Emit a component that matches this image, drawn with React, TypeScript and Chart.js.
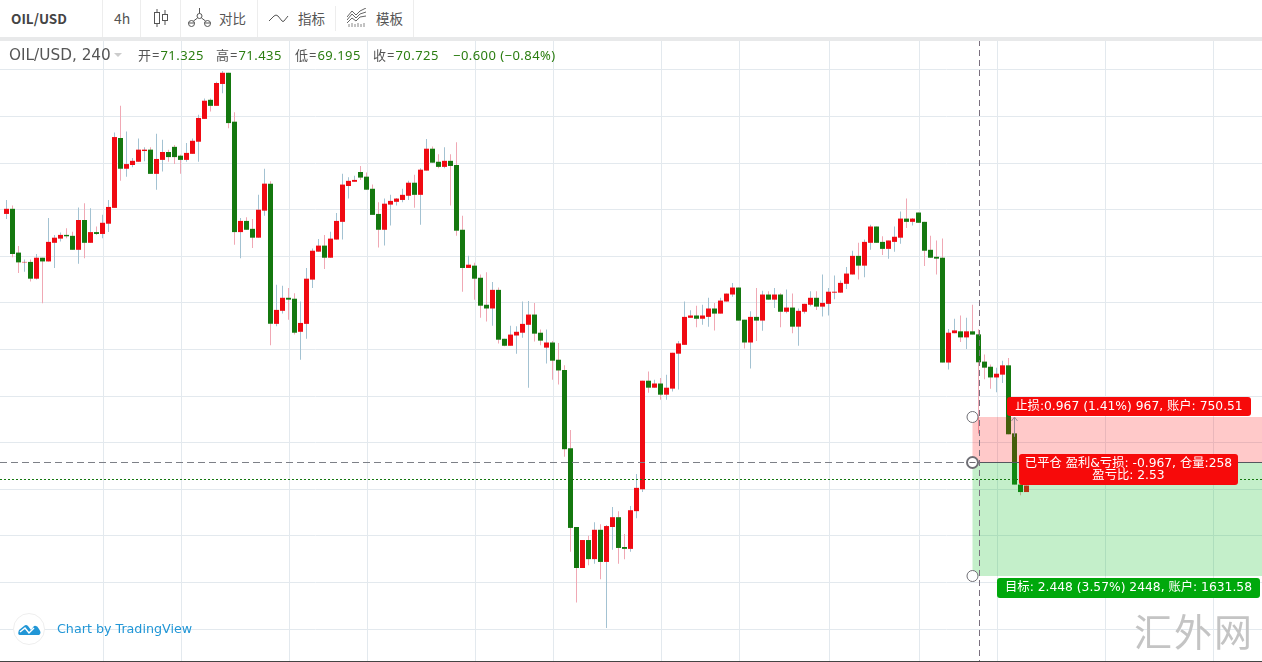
import React, { useEffect, useRef } from "react";
import { Chart, registerables } from "chart.js";

Chart.register(...registerables);

const opens = [
  73.91,74.02,73.08,72.87,72.88,72.52,72.97,72.89,73.29,73.38,
  73.46,73.44,73.14,73.78,73.29,73.52,73.48,73.70,74.04,75.54,
  74.88,74.96,75.03,75.26,75.29,74.77,75.07,75.24,75.35,75.16,
  75.07,75.20,75.46,75.95,76.36,76.23,76.70,76.94,75.89,73.52,
  73.76,73.59,73.40,73.98,74.56,71.55,71.83,72.11,72.09,71.38,
  71.55,72.50,73.10,73.23,72.97,73.36,73.74,74.51,74.60,74.81,
  74.71,74.45,73.91,73.57,74.11,74.17,74.21,74.30,74.58,74.32,
  74.84,75.31,75.03,74.92,75.05,74.96,73.57,72.75,72.80,72.54,
  71.96,71.88,72.28,71.23,71.08,71.30,71.36,71.53,71.75,71.36,
  71.04,71.15,70.78,70.56,68.88,67.19,66.31,66.91,66.50,67.13,
  66.44,67.19,67.40,66.76,66.72,67.53,68.00,70.33,70.18,70.27,
  70.03,70.16,70.91,71.10,71.68,71.73,71.66,71.70,71.88,71.77,
  72.03,72.18,72.33,71.64,71.15,71.70,71.62,72.18,72.07,72.18,
  71.81,71.90,71.49,71.81,71.96,72.11,71.92,71.98,72.22,72.22,
  72.41,72.61,73.01,72.80,73.29,73.64,73.31,73.16,73.31,73.40,
  73.81,73.74,73.94,73.74,73.14,72.99,72.97,70.72,71.35,71.39,
  71.26,71.39,71.325,70.74,70.63,70.40,70.46,70.66,69.20,68.10,67.94,
];
const closes = [
  74.02,73.05,72.87,72.88,72.52,72.97,72.89,73.31,73.40,73.46,
  73.43,73.14,73.78,73.29,73.52,73.48,73.72,74.06,75.56,74.88,
  74.98,75.05,75.29,75.29,74.77,75.09,75.24,75.13,75.13,75.07,
  75.22,75.48,75.97,76.34,76.23,76.72,76.94,75.86,73.52,73.76,
  73.57,73.40,74.00,74.56,71.55,71.85,72.11,72.07,71.36,71.57,
  72.52,73.12,73.23,72.97,73.38,73.76,74.54,74.62,74.64,74.69,
  74.43,73.89,73.57,74.13,74.19,74.24,74.32,74.58,74.32,74.86,
  75.31,75.01,74.92,75.05,74.94,73.55,72.75,72.82,72.52,71.94,
  71.88,72.28,71.21,71.08,71.32,71.38,71.55,71.75,71.34,71.19,
  71.15,70.76,70.55,68.86,67.17,66.31,66.91,66.50,67.13,66.44,
  67.21,67.40,66.74,66.72,67.55,68.03,70.33,70.18,70.27,70.03,
  70.18,70.93,71.13,71.70,71.73,71.66,71.73,71.88,71.77,72.05,
  72.20,72.33,71.62,71.15,71.70,71.62,72.18,72.07,72.18,71.81,
  71.90,71.49,71.83,71.98,72.11,71.92,72.00,72.24,72.24,72.43,
  72.63,73.01,72.80,73.31,73.64,73.29,73.16,73.34,73.42,73.81,
  73.74,73.81,73.72,73.12,72.97,72.95,70.72,71.36,71.41,71.26,
  71.39,71.32,70.725,70.61,70.40,70.48,70.66,69.18,68.10,67.94,68.08,
];
const highs = [
  74.21,74.09,73.22,72.93,72.93,73.05,72.97,73.82,73.46,73.51,
  73.60,73.53,74.05,74.14,74.03,73.64,73.89,74.21,75.66,76.23,
  75.68,75.11,75.53,75.34,75.34,75.63,75.50,75.29,75.39,75.18,
  75.43,75.53,76.04,76.39,76.39,76.75,76.98,76.94,76.09,73.82,
  73.84,73.80,74.32,74.88,74.61,72.39,72.37,72.32,72.21,72.03,
  72.75,73.17,73.37,73.46,73.53,73.93,74.77,74.70,74.73,74.94,
  74.80,74.54,74.16,74.24,74.32,74.25,74.45,74.62,74.75,74.89,
  75.52,75.36,75.19,75.34,75.19,75.45,73.87,73.01,72.86,72.61,
  72.66,72.45,72.33,71.23,71.51,71.50,72.03,72.04,72.00,71.43,
  71.43,71.18,71.14,70.66,69.27,67.19,66.91,67.00,67.29,67.25,
  67.23,67.62,67.53,67.04,67.64,68.33,70.33,70.53,70.35,70.39,
  70.46,70.93,71.18,72.03,71.84,71.94,71.96,72.11,72.00,72.11,
  72.20,72.43,72.33,71.64,71.82,72.32,72.26,72.25,72.32,72.21,
  72.29,72.20,71.88,71.98,72.25,72.25,72.61,72.32,72.59,72.48,
  72.77,73.12,73.29,73.36,73.68,73.64,73.43,73.34,73.64,73.96,
  74.24,73.82,73.94,73.74,73.44,73.34,73.38,71.44,71.66,71.73,
  71.68,71.96,71.435,70.89,70.68,70.61,70.76,70.82,69.28,68.10,68.08,
];
const lows = [
  73.80,72.98,72.64,72.67,72.46,72.50,71.99,72.89,72.75,73.32,
  73.39,73.14,72.84,72.96,73.29,73.46,73.39,73.52,74.04,74.62,
  74.71,74.91,75.03,75.04,74.77,74.43,74.82,75.03,74.98,74.77,
  75.03,75.20,75.03,75.95,76.11,76.23,76.50,75.75,73.25,72.96,
  73.57,73.18,73.40,73.87,71.09,71.50,71.77,71.64,71.32,70.78,
  71.23,72.32,73.10,72.73,72.97,73.36,73.36,74.24,74.60,74.64,
  74.43,73.89,73.19,73.23,73.66,74.09,74.16,74.21,74.04,73.68,
  74.84,75.01,74.89,74.89,74.09,73.44,72.24,72.75,72.07,71.68,
  71.60,71.51,71.13,71.07,71.08,70.91,71.25,70.18,71.17,71.09,
  70.70,70.35,70.25,68.70,66.66,65.57,66.31,66.37,66.40,66.07,
  65.02,66.70,66.40,66.50,66.66,67.38,67.94,70.07,70.18,69.92,
  69.92,70.10,70.14,71.10,71.68,71.48,71.53,71.49,71.41,71.77,
  72.03,72.13,71.62,71.02,70.59,71.18,71.40,72.07,71.89,71.48,
  71.78,71.35,71.08,71.77,71.93,71.85,71.71,71.73,72.08,72.22,
  72.30,72.61,72.50,72.55,73.14,73.29,73.03,72.95,73.10,73.27,
  73.61,73.66,73.72,72.79,72.97,72.61,70.72,70.57,71.35,71.16,
  71.01,71.32,69.195,70.36,70.16,70.08,70.28,69.18,68.10,67.87,67.94,
];

const priceGridTicks = [77, 76, 75, 74, 73, 72, 71, 70, 69, 68, 67, 66, 65];
const barGridTicks = [16.17, 29.17, 47.17, 60.17, 78.17, 91.17, 109.17, 122.17, 137.17, 152.17, 165.17, 183.17, 201.17];

const entryPrice = 68.585;
const stopDistance = 0.967;
const targetDistance = 2.448;
const lastPrice = 68.22;
const crosshairBar = 162.17;
const tradeStartBar = 161;
const tradeArrowBar = 168;
const tradeArrowFrom = 69.125;

const headerOHLC = [
  { label: "开=", value: "71.325", x: 138 },
  { label: "高=", value: "71.435", x: 216 },
  { label: "低=", value: "69.195", x: 295 },
  { label: "收=", value: "70.725", x: 373 },
];
const headerChange = "−0.600 (−0.84%)";
const stopLabel = "止损:0.967 (1.41%) 967, 账户: 750.51";
const closedLabel = ["已平仓 盈利&亏损: -0.967, 仓量:258", "盈亏比: 2.53"];
const targetLabel = "目标: 2.448 (3.57%) 2448, 账户: 1631.58";

const RED = "#f00a12";
const GREEN = "#14780f";
const WICK_UP = "#a3c2d2";
const WICK_DOWN = "#f0a8b4";
const GRID = "#e3e9ee";
const FONT = '"DejaVu Sans", "Noto Sans CJK SC", sans-serif';
const HEADER_FONT = '"Noto Sans", "Noto Sans CJK SC", sans-serif';

function roundRect(ctx: CanvasRenderingContext2D, x: number, y: number, w: number, h: number, color: string) {
  ctx.fillStyle = color;
  ctx.beginPath();
  ctx.roundRect(x, y, w, h, 3);
  ctx.fill();
}

function handle(ctx: CanvasRenderingContext2D, x: number, y: number, lw: number, r: number) {
  ctx.setLineDash([]);
  ctx.beginPath();
  ctx.arc(x, y, r, 0, Math.PI * 2);
  ctx.fillStyle = "#fff";
  ctx.fill();
  ctx.lineWidth = lw;
  ctx.strokeStyle = "#6f6f75";
  ctx.stroke();
}

const overlayPlugin = {
  id: "tradeOverlay",
  afterDatasetsDraw(chart: any) {
    const { ctx, chartArea } = chart;
    const xs = chart.scales.x;
    const ys = chart.scales.y;
    const left = xs.getPixelForValue(tradeStartBar);
    const right = chartArea.right;
    const yEntry = Math.round(ys.getPixelForValue(entryPrice));
    const yStop = Math.round(ys.getPixelForValue(entryPrice + stopDistance));
    const yTarget = Math.round(ys.getPixelForValue(entryPrice - targetDistance));
    const yLast = Math.round(ys.getPixelForValue(lastPrice));
    const xCross = Math.round(xs.getPixelForValue(crosshairBar) - 0.5) + 0.5;
    ctx.save();

    ctx.fillStyle = "rgba(255,0,0,0.21)";
    ctx.fillRect(left, yStop, right - left, yEntry - yStop);
    ctx.fillStyle = "rgba(0,185,25,0.23)";
    ctx.fillRect(left, yEntry, right - left, yTarget - yEntry);

    ctx.lineWidth = 1;
    ctx.strokeStyle = "#14780f";
    ctx.setLineDash([2, 2]);
    ctx.beginPath();
    ctx.moveTo(0, yLast + 0.5);
    ctx.lineTo(right, yLast + 0.5);
    ctx.stroke();

    ctx.strokeStyle = "#7d8087";
    ctx.setLineDash([7, 4]);
    ctx.beginPath();
    ctx.moveTo(0, yEntry + 0.5);
    ctx.lineTo(left, yEntry + 0.5);
    ctx.stroke();

    ctx.setLineDash([]);
    ctx.strokeStyle = "#55565e";
    ctx.beginPath();
    ctx.moveTo(left, yEntry + 0.5);
    ctx.lineTo(right, yEntry + 0.5);
    ctx.stroke();

    ctx.strokeStyle = "#7a6f7e";
    ctx.setLineDash([6, 4]);
    ctx.beginPath();
    ctx.moveTo(xCross, 40);
    ctx.lineTo(xCross, 662);
    ctx.stroke();

    const xArrow = Math.round(xs.getPixelForValue(tradeArrowBar) - 0.5) + 0.5;
    const yFrom = ys.getPixelForValue(tradeArrowFrom);
    ctx.setLineDash([]);
    ctx.strokeStyle = "#9c8a96";
    ctx.beginPath();
    ctx.moveTo(xArrow, yFrom);
    ctx.lineTo(xArrow, yStop);
    ctx.moveTo(xArrow - 3, yStop + 4);
    ctx.lineTo(xArrow, yStop);
    ctx.lineTo(xArrow + 3, yStop + 4);
    ctx.stroke();

    handle(ctx, left, yStop, 1, 5.5);
    handle(ctx, left, yTarget, 1, 5.5);
    handle(ctx, left, yEntry + 0.5, 2, 5.5);
    ctx.beginPath();
    ctx.moveTo(left - 3, yEntry + 0.5);
    ctx.lineTo(left + 3, yEntry + 0.5);
    ctx.lineWidth = 1;
    ctx.stroke();

    ctx.textAlign = "center";
    ctx.textBaseline = "middle";
    ctx.font = `12.3px ${FONT}`;

    roundRect(ctx, 1007, 397, 244, 19, "#f70a0a");
    ctx.fillStyle = "#fff";
    ctx.fillText(stopLabel, 1129, 406.5);

    roundRect(ctx, 1019, 454, 219, 31, "#f70a0a");
    ctx.fillStyle = "#fff";
    ctx.fillText(closedLabel[0], 1128.5, 463.5);
    ctx.fillText(closedLabel[1], 1128.5, 476);

    roundRect(ctx, 997, 578, 263, 20, "#00a80c");
    ctx.fillStyle = "#fff";
    ctx.fillText(targetLabel, 1128.5, 588);

    ctx.restore();
  },
};

function CandleIcon() {
  return (
    <svg width="14" height="18" viewBox="0 0 14 18" style={{ position: "absolute", left: 154, top: 9 }}>
      <path d="M3 0v3M3 14v4M11 1v4M11 12v4" stroke="#555" />
      <rect x="0.5" y="3.5" width="5" height="11" fill="none" stroke="#555" />
      <rect x="8.5" y="5.5" width="5" height="6" fill="none" stroke="#555" />
    </svg>
  );
}
function CompareIcon() {
  return (
    <svg width="24" height="20" viewBox="0 0 24 20" style={{ position: "absolute", left: 188, top: 8 }}>
      <g fill="none" stroke="#555">
        <circle cx="11.5" cy="8" r="2.5" />
        <circle cx="3.5" cy="15.5" r="3" />
        <circle cx="19.5" cy="15.5" r="3" />
        <path d="M11.5 0v5.5M9.5 10l-4 3M13.5 10l4 3M0 15h7M16 15h7" />
      </g>
    </svg>
  );
}
function WaveIcon() {
  return (
    <svg width="20" height="10" viewBox="0 0 20 10" style={{ position: "absolute", left: 269, top: 13 }}>
      <path d="M0 8 L5 3 Q7 1 9 3 L13 8 Q14 9 15 8 L19 3" fill="none" stroke="#555" />
    </svg>
  );
}
function TemplateIcon() {
  return (
    <svg width="20" height="20" viewBox="0 0 20 20" style={{ position: "absolute", left: 347, top: 8 }}>
      <path d="M0 9 L5 3 L9 7 L13 3 L19 0M0 12 L5 6 L9 10 L13 6 L19 4M0 15 L5 10 L9 13 L13 9 L19 8" fill="none" stroke="#666" />
      <path d="M2 19v-3M5 19v-4M8 19v-3M11 19v-4M14 19v-3M17 19v-4" stroke="#888" />
    </svg>
  );
}

const abs = (left: number, top: number, extra: React.CSSProperties = {}): React.CSSProperties => ({
  position: "absolute",
  left,
  top,
  whiteSpace: "nowrap",
  ...extra,
});

export default function App() {
  const ref = useRef<HTMLCanvasElement | null>(null);

  useEffect(() => {
    const idx = opens.map((_, i) => i);
    const chart = new Chart(ref.current as HTMLCanvasElement, {
      type: "bar",
      data: {
        datasets: [
          {
            label: "body",
            order: 0,
            grouped: false,
            barThickness: 5,
            inflateAmount: 0,
            borderWidth: 0,
            backgroundColor: idx.map((i) => (closes[i] >= opens[i] ? RED : GREEN)),
            data: idx.map((i) => ({ x: i, y: [opens[i], closes[i]] })),
          },
          {
            label: "wick",
            order: 1,
            grouped: false,
            barThickness: 1,
            inflateAmount: 0,
            borderWidth: 0,
            backgroundColor: idx.map((i) => (closes[i] >= opens[i] ? WICK_UP : WICK_DOWN)),
            data: idx.map((i) => ({ x: i, y: [lows[i], highs[i]] })),
          },
        ] as any,
      },
      options: {
        responsive: false,
        animation: false,
        layout: { padding: 0 },
        plugins: { legend: { display: false }, tooltip: { enabled: false } },
        scales: {
          x: {
            type: "linear",
            offset: false,
            min: -6.5 / 6,
            max: (1262 - 6.5) / 6,
            ticks: { display: false },
            border: { display: false },
            grid: { color: GRID, drawTicks: false, offset: false },
            afterBuildTicks: (a: any) => {
              a.ticks = barGridTicks.map((value) => ({ value }));
            },
          },
          y: {
            type: "linear",
            min: 65 - 33 / 46.6,
            max: 77 + 70 / 46.6,
            ticks: { display: false },
            border: { display: false },
            grid: { color: GRID, drawTicks: false },
            afterBuildTicks: (a: any) => {
              a.ticks = priceGridTicks.map((value) => ({ value }));
            },
          },
        },
      } as any,
      plugins: [overlayPlugin],
    });
    return () => chart.destroy();
  }, []);

  const toolbarFont: React.CSSProperties = { fontFamily: '"Noto Sans CJK SC", sans-serif', fontSize: 13.5, color: "#555", lineHeight: "36px" };
  const seps = [102, 140, 180, 257, 413];

  return (
    <div style={{ position: "fixed", left: 0, top: 0, width: 1262, height: 662, background: "#fff", overflow: "hidden" }}>
      <canvas ref={ref} width={1262} height={662} style={{ display: "block", position: "absolute", left: 0, top: 0 }} />

      <div style={{ position: "absolute", left: 0, top: 0, width: 1262, height: 37, background: "#fff" }}>
        {seps.map((x) => (
          <div key={x} style={{ position: "absolute", left: x, top: 0, width: 1, height: 37, background: "#ededed" }} />
        ))}
        <div style={{ position: "absolute", left: 335, top: 6, width: 1, height: 25, background: "#ededed" }} />
        <span style={abs(11, 0, { ...toolbarFont, fontWeight: 700, fontSize: 13.5, color: "#444" })}>OIL/USD</span>
        <span style={abs(114, 0, { ...toolbarFont, fontSize: 14 })}>4h</span>
        <CandleIcon />
        <CompareIcon />
        <span style={abs(219, 0, toolbarFont)}>对比</span>
        <WaveIcon />
        <span style={abs(298, 0, toolbarFont)}>指标</span>
        <TemplateIcon />
        <span style={abs(376, 0, toolbarFont)}>模板</span>
      </div>
      <div style={{ position: "absolute", left: 0, top: 37, width: 1262, height: 4, background: "#e8e9ea" }} />

      <div style={{ position: "absolute", left: 0, top: 41, width: 1262, height: 30, fontFamily: HEADER_FONT, fontSize: 13, letterSpacing: 0.45, lineHeight: "28px" }}>
        <span style={abs(9, 0, { fontFamily: FONT, letterSpacing: 0, fontSize: 15.3, color: "#555", lineHeight: "28px" })}>OIL/USD, 240</span>
        <div style={{ position: "absolute", left: 114, top: 12, width: 0, height: 0, borderLeft: "4px solid transparent", borderRight: "4px solid transparent", borderTop: "4px solid #ccc" }} />
        {headerOHLC.map((h) => (
          <span key={h.label} style={abs(h.x, 0)}>
            <span style={{ color: "#555", letterSpacing: 1 }}>{h.label}</span>
            <span style={{ color: "#2a7d10" }}>{h.value}</span>
          </span>
        ))}
        <span style={abs(453, 0, { color: "#2a7d10" })}>{headerChange}</span>
      </div>

      <svg width="32" height="32" viewBox="0 0 32 32" style={{ position: "absolute", left: 13, top: 613 }}>
        <circle cx="16" cy="16" r="15.5" fill="#fff" stroke="#eeeeee" />
        <path d="M7 22 Q4 22 6 17 L11 13 Q13 11 15 13 L18 17 L21 13 Q24 12 26 16 Q29 20 26 22 Z" fill="#2196d6" />
        <path d="M7 19 L12 15 L16 20 L21 15" fill="none" stroke="#fff" strokeWidth="1.5" />
      </svg>
      <span style={abs(57, 620, { fontFamily: FONT, fontSize: 12.7, color: "#2196d6", lineHeight: "18px" })}>Chart by TradingView</span>

      <span style={abs(1134, 606, { fontFamily: '"Noto Sans CJK SC", sans-serif', fontWeight: 400, fontSize: 38, letterSpacing: 2, color: "#c4c4c4", lineHeight: "48px" })}>汇外网</span>

      <div style={{ position: "absolute", left: 0, top: 661, width: 1262, height: 1, background: "#444" }} />
    </div>
  );
}
